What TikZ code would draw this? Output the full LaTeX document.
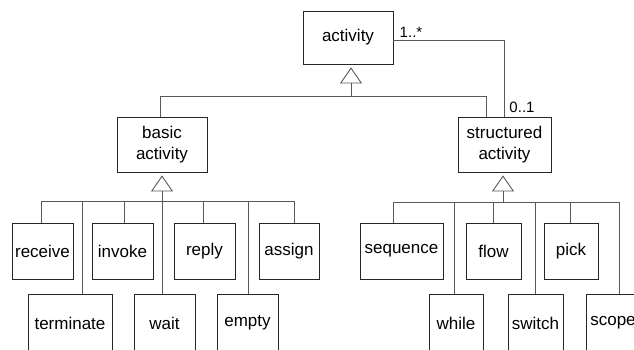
\documentclass[tikz,border=0pt]{standalone}
\usepackage{fontspec}
\setmainfont{Liberation Sans}
\usetikzlibrary{arrows.meta}
\begin{document}
\begin{tikzpicture}[x=1pt,y=-1pt,
  box/.style={draw=black!85,line width=0.8pt,fill=white,inner sep=0pt,
    font=\fontsize{17}{21}\selectfont,align=center},
  conn/.style={draw=black!65,line width=0.9pt},
  gen/.style={conn,shorten >=3pt,-{Triangle[open,length=16pt,width=22pt,fill=white]}},
  lbl/.style={font=\fontsize{15}{18}\selectfont,inner sep=0pt}]
\useasboundingbox (0,0) rectangle (634,349);
\clip (0,0) rectangle (634,349);
% top level
\node[box,minimum width=90pt,minimum height=53pt] (activity) at (348,37.5) {activity};
\node[box,minimum width=90pt,minimum height=55pt] (basic) at (162,144.5) {basic\\activity};
\node[box,minimum width=93pt,minimum height=55pt] (structured) at (504.5,144.5) {structured\\activity};
% row 1
\node[box,minimum width=61pt,minimum height=56pt] (receive) at (42.5,251) {receive};
\node[box,minimum width=61pt,minimum height=56pt] (invoke) at (122.5,251) {invoke};
\node[box,minimum width=61pt,minimum height=56pt] (reply) at (204.5,251) {reply};
\node[box,minimum width=60pt,minimum height=56pt] (assign) at (289,251) {assign};
\node[box,minimum width=83pt,minimum height=56pt] (sequence) at (401.5,251) {sequence};
\node[box,minimum width=55pt,minimum height=56pt] (flow) at (493.5,251) {flow};
\node[box,minimum width=54pt,minimum height=56pt] (pick) at (571,251) {pick};
% row 2
\node[box,minimum width=84pt,minimum height=58pt] (terminate) at (70,323) {terminate};
\node[box,minimum width=61pt,minimum height=58pt] (wait) at (164.5,323) {wait};
\node[box,minimum width=61pt,minimum height=58pt] (empty) at (247.5,323) {empty};
\node[box,minimum width=54pt,minimum height=58pt] (while) at (456,323) {while};
\node[box,minimum width=55pt,minimum height=58pt] (switch) at (535.5,323) {switch};
\node[box,minimum width=54pt,minimum height=58pt] (scope) at (613,323) {scope};
% generalization to activity
\coordinate (tA) at (351,96);
\coordinate (tL) at (160,96);
\coordinate (tR) at (486,96);
\draw[conn] (tL |- basic.north) -- (tL) -- (tR) -- (tR |- structured.north);
\draw[gen] (tA) -- (tA |- activity.south);
% association
\draw[conn] ([yshift=-2.5pt]activity.east) -| (structured.north);
\node[lbl] (m1) at (411,32) {1..*};
\node[lbl] (m2) at (522,107) {0..1};
% basic activity bus
\coordinate (b1) at (41,201);
\coordinate (b2) at (82,201);
\coordinate (b3) at (124,201);
\coordinate (b4) at (162,201);
\coordinate (b5) at (203,201);
\coordinate (b6) at (248,201);
\coordinate (b7) at (294,201);
\draw[conn] (b1) -- (b7);
\draw[gen] (b4 |- wait.north) -- (basic.south);
\draw[conn] (b1) -- (b1 |- receive.north);
\draw[conn] (b2) -- (b2 |- terminate.north);
\draw[conn] (b3) -- (b3 |- invoke.north);
\draw[conn] (b5) -- (b5 |- reply.north);
\draw[conn] (b6) -- (b6 |- empty.north);
\draw[conn] (b7) -- (b7 |- assign.north);
% structured activity bus
\coordinate (s1) at (393,202);
\coordinate (s2) at (454,202);
\coordinate (s3) at (493,202);
\coordinate (s4) at (503,202);
\coordinate (s5) at (535,202);
\coordinate (s6) at (570,202);
\coordinate (s7) at (619,202);
\draw[conn] (s1) -- (s7);
\draw[gen] (s4) -- (s4 |- structured.south);
\draw[conn] (s1) -- (s1 |- sequence.north);
\draw[conn] (s2) -- (s2 |- while.north);
\draw[conn] (s3) -- (s3 |- flow.north);
\draw[conn] (s5) -- (s5 |- switch.north);
\draw[conn] (s6) -- (s6 |- pick.north);
\draw[conn] (s7) -- (s7 |- scope.north);
\end{tikzpicture}
\end{document}
